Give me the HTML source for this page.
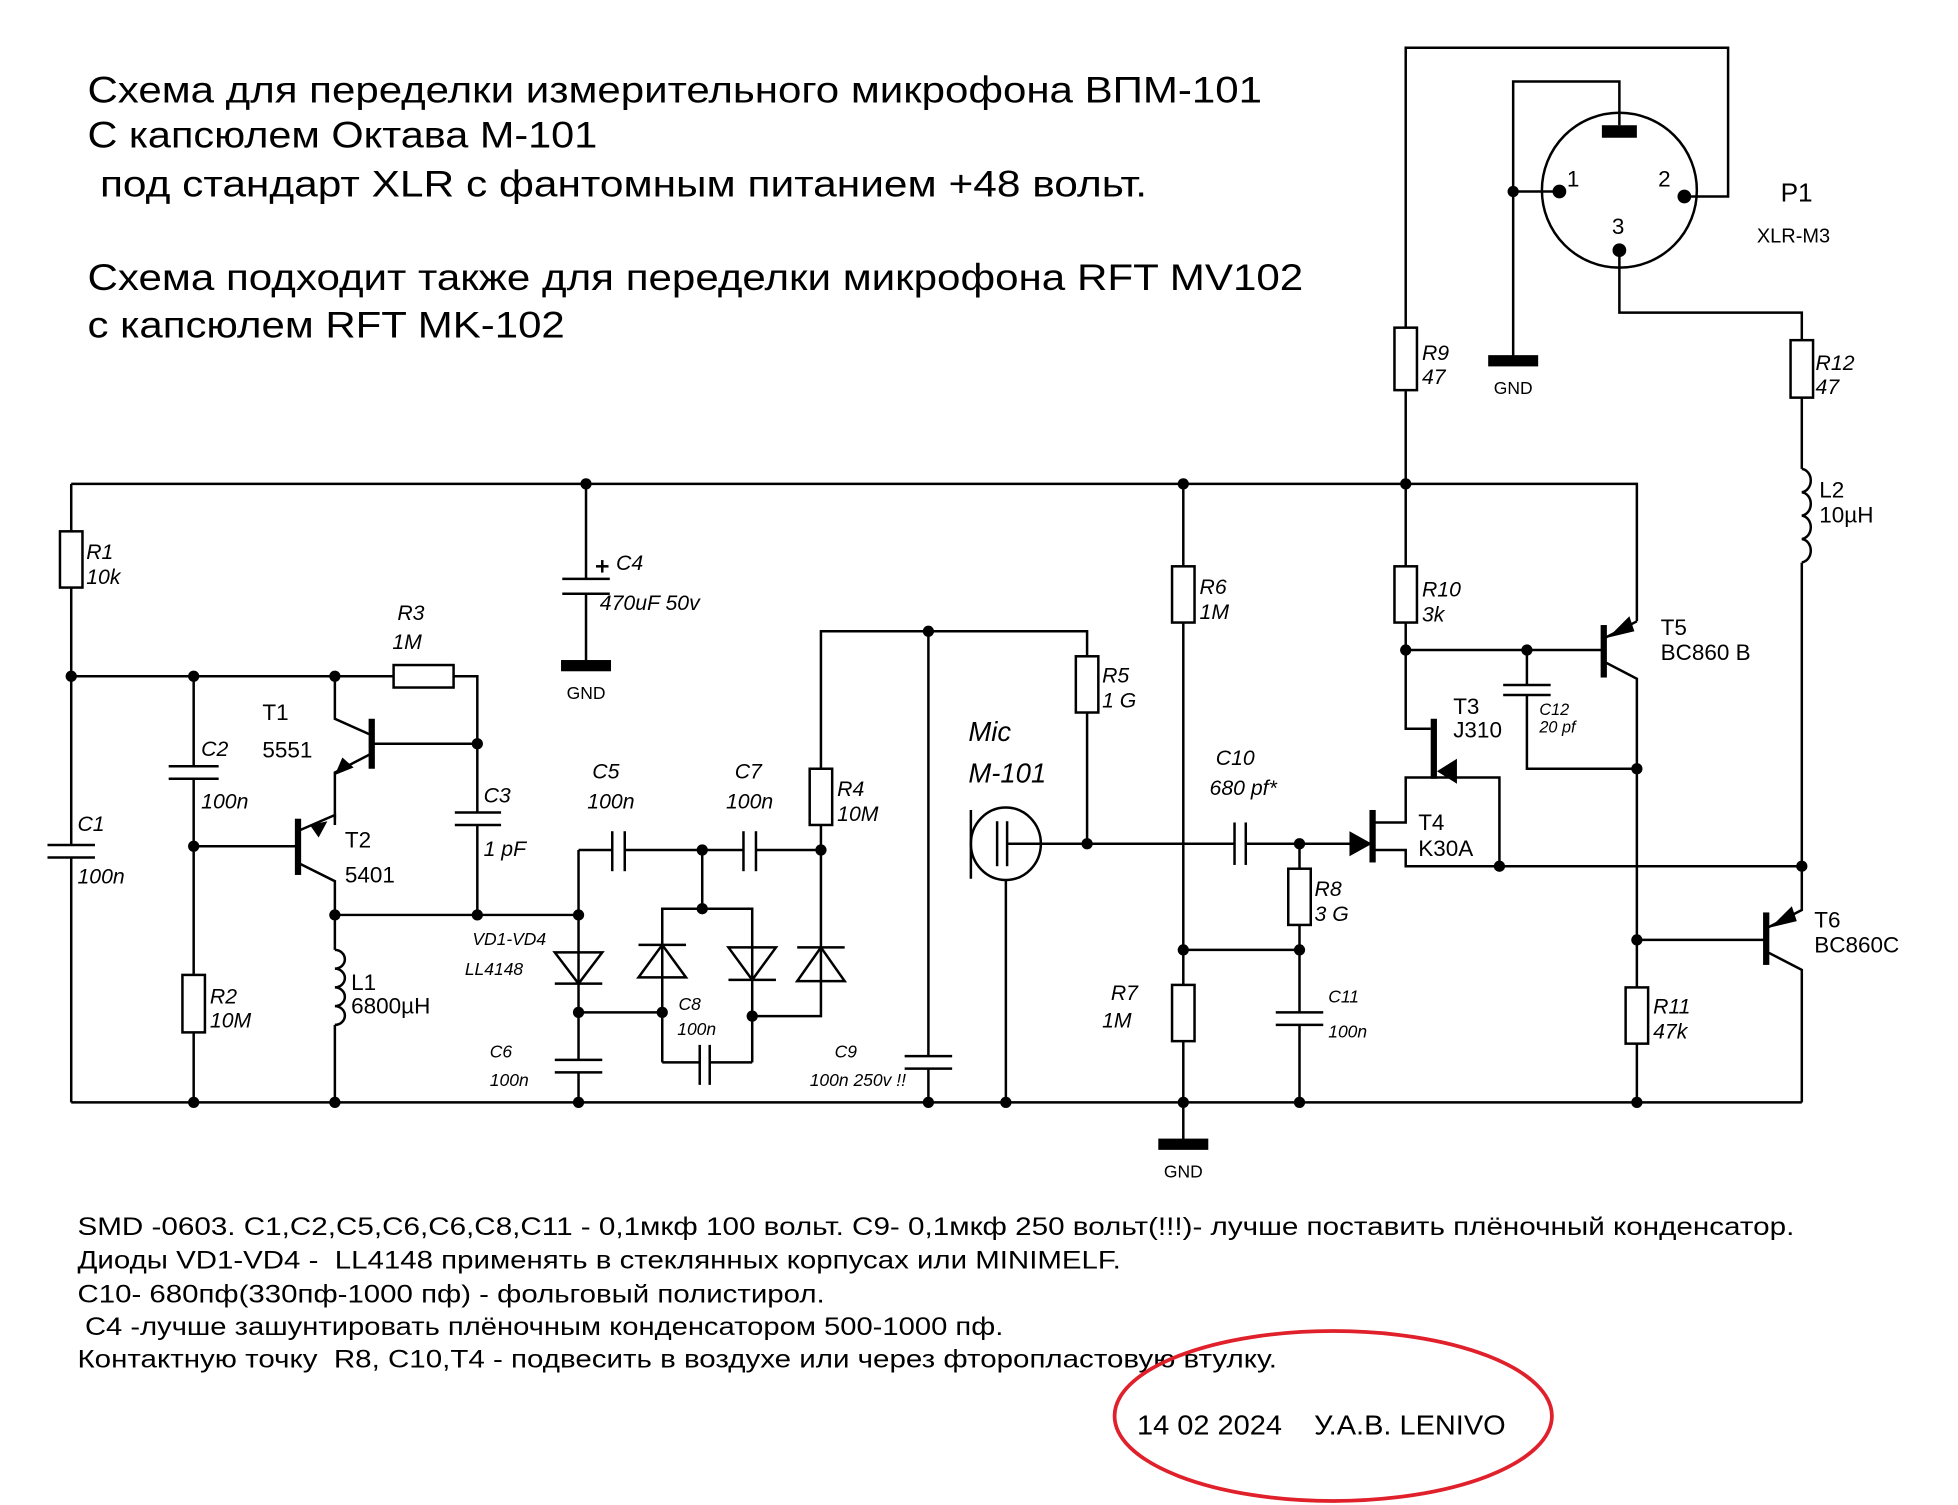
<!DOCTYPE html>
<html><head><meta charset="utf-8"><style>
html,body{margin:0;padding:0;background:#fff;}
svg{display:block;}
text{font-family:"Liberation Sans",sans-serif;fill:#000;white-space:pre;}
.i{font-style:italic;font-size:17px;}
.r{font-size:18px;}
.s{font-size:14px;font-style:italic;}
.t{font-size:30px;}
.n{font-size:20px;}
</style></head><body>
<svg width="1958" height="1505" viewBox="0 0 1567 1204" xmlns="http://www.w3.org/2000/svg" xml:space="preserve">
<rect width="1567" height="1204" fill="#fff"/>
<g stroke="#000" stroke-width="2" fill="none">
<polyline points="57,387 1310,387 1310,497"/>
<line x1="57" y1="882" x2="1442" y2="882"/>
<line x1="57" y1="387" x2="57" y2="676"/><line x1="57" y1="686" x2="57" y2="882"/>
<line x1="38" y1="676" x2="76" y2="676"/><line x1="38" y1="686" x2="76" y2="686"/>
<rect x="48" y="425" width="18" height="45" fill="#fff"/>
<line x1="57" y1="541" x2="315" y2="541"/><rect x="315" y="532" width="48" height="18"/>
<polyline points="363,541 382,541 382,650"/><line x1="382" y1="660" x2="382" y2="732"/>
<line x1="364" y1="650" x2="401" y2="650"/><line x1="364" y1="660" x2="401" y2="660"/>
<line x1="155" y1="541" x2="155" y2="613"/><line x1="155" y1="623" x2="155" y2="780"/><line x1="155" y1="826" x2="155" y2="882"/>
<line x1="135" y1="613" x2="175" y2="613"/><line x1="135" y1="623" x2="175" y2="623"/>
<rect x="146" y="780" width="18" height="46"/>
<polyline points="268,541 268,575 297,588"/>
<line x1="297" y1="595" x2="382" y2="595"/>
<polyline points="297,603 268,618 268,660"/>
<line x1="155" y1="677" x2="238" y2="677"/>
<polyline points="238,665 268,652 268,655"/>
<polyline points="238,690 268,705 268,760"/>
<line x1="268" y1="732" x2="463" y2="732"/>
<path d="M268,760 a8,7.5 0 0 1 0,15 a8,7.5 0 0 1 0,15 a8,7.5 0 0 1 0,15 a8,7.5 0 0 1 0,15"/>
<line x1="268" y1="820" x2="268" y2="882"/>
<line x1="469" y1="387" x2="469" y2="463"/><line x1="469" y1="475" x2="469" y2="530"/>
<line x1="450" y1="463" x2="488" y2="463"/><line x1="450" y1="475" x2="488" y2="475"/>
<line x1="477" y1="453" x2="487" y2="453"/><line x1="482" y1="448" x2="482" y2="458"/>
<polyline points="463,882 463,858"/><line x1="463" y1="848" x2="463" y2="680"/>
<line x1="444" y1="848" x2="482" y2="848"/><line x1="444" y1="858" x2="482" y2="858"/>
<line x1="463" y1="680" x2="490" y2="680"/><line x1="500" y1="680" x2="595" y2="680"/><line x1="605" y1="680" x2="657" y2="680"/>
<line x1="490" y1="665" x2="490" y2="697"/><line x1="500" y1="665" x2="500" y2="697"/>
<line x1="595" y1="665" x2="595" y2="697"/><line x1="605" y1="665" x2="605" y2="697"/>
<polygon points="444,762 482,762 463,787"/><line x1="444" y1="787" x2="482" y2="787"/>
<line x1="463" y1="810" x2="530" y2="810"/>
<line x1="562" y1="680" x2="562" y2="727"/>
<polyline points="530,850 530,727 602,727 602,850"/>
<polygon points="511,782 549,782 530,756"/><line x1="511" y1="756" x2="549" y2="756"/>
<polygon points="583,758 621,758 602,784"/><line x1="583" y1="784" x2="621" y2="784"/>
<polyline points="530,850 560,850"/><polyline points="568,850 602,850"/>
<line x1="560" y1="836" x2="560" y2="868"/><line x1="568" y1="836" x2="568" y2="868"/>
<polyline points="602,813 657,813 657,505 870,505 870,525"/>
<polygon points="638,785 676,785 657,758"/><line x1="638" y1="758" x2="676" y2="758"/>
<rect x="648" y="615" width="18" height="45" fill="#fff"/>
<line x1="743" y1="505" x2="743" y2="845"/><line x1="743" y1="855" x2="743" y2="882"/>
<line x1="724" y1="845" x2="762" y2="845"/><line x1="724" y1="855" x2="762" y2="855"/>
<rect x="861" y="525" width="18" height="45"/><line x1="870" y1="570" x2="870" y2="675"/>
<ellipse cx="805" cy="675" rx="28" ry="29"/>
<line x1="777" y1="648" x2="777" y2="703"/>
<line x1="798" y1="657" x2="798" y2="693"/><line x1="806" y1="657" x2="806" y2="693"/>
<line x1="806" y1="675" x2="988" y2="675"/><line x1="997" y1="675" x2="1082" y2="675"/>
<line x1="988" y1="658" x2="988" y2="692"/><line x1="997" y1="658" x2="997" y2="692"/>
<line x1="805" y1="704" x2="805" y2="882"/>
<line x1="947" y1="387" x2="947" y2="915"/>
<rect x="938" y="453" width="18" height="45" fill="#fff"/>
<rect x="938" y="788" width="18" height="45" fill="#fff"/>
<line x1="947" y1="760" x2="1040" y2="760"/>
<line x1="1040" y1="675" x2="1040" y2="810"/><line x1="1040" y1="820" x2="1040" y2="882"/>
<rect x="1031" y="695" width="18" height="45" fill="#fff"/>
<line x1="1021" y1="810" x2="1059" y2="810"/><line x1="1021" y1="820" x2="1059" y2="820"/>
<polyline points="1100,658 1125,658 1125,622 1200,622 1200,693"/>
<polyline points="1100,680 1125,680 1125,693 1442,693"/>
<polyline points="1125,312 1125,583 1145,583"/>
<rect x="1116" y="453" width="18" height="45" fill="#fff"/>
<rect x="1116" y="262" width="18" height="50" fill="#fff"/>
<polyline points="1125,262 1125,38 1383,38 1383,157 1350,157"/>
<line x1="1125" y1="520" x2="1283" y2="520"/>
<polyline points="1222,520 1222,548"/><polyline points="1222,556 1222,615 1310,615"/>
<line x1="1203" y1="548" x2="1241" y2="548"/><line x1="1203" y1="556" x2="1241" y2="556"/>
<polyline points="1285,510 1310,497"/>
<polyline points="1285,530 1310,543 1310,790"/><line x1="1310" y1="835" x2="1310" y2="882"/>
<rect x="1301" y="790" width="18" height="45"/>
<line x1="1310" y1="752" x2="1413" y2="752"/>
<polyline points="1415,742 1442,728 1442,450"/>
<polyline points="1415,762 1442,776 1442,882"/>
<path d="M1442,375 a8,9.4 0 0 1 0,18.7 a8,9.4 0 0 1 0,18.7 a8,9.4 0 0 1 0,18.7 a8,9.4 0 0 1 0,18.7"/>
<polyline points="1442,375 1442,318"/><rect x="1433" y="272" width="18" height="46"/>
<polyline points="1442,272 1442,250 1296,250 1296,200"/>
<ellipse cx="1296" cy="152" rx="62" ry="62"/>
<polyline points="1296,100 1296,65 1211,65 1211,285"/>
<line x1="1211" y1="153" x2="1248" y2="153"/>
</g>
<g fill="#000">
<rect x="236" y="655" width="5" height="45"/>
<rect x="295" y="575" width="5" height="40"/>
<rect x="1096" y="648" width="5" height="42"/>
<rect x="1145" y="575" width="5" height="48"/>
<rect x="1281" y="500" width="5" height="42"/>
<rect x="1411" y="730" width="5" height="42"/>
<polygon points="268,620 274,606 283,614"/>
<polygon points="262,657 248,660 255,670"/>
<polygon points="1098,675 1080,665 1080,685"/>
<polygon points="1150,617 1166,607 1166,627"/>
<polygon points="1287,510 1304,493 1308,505"/>
<polygon points="1417,742 1434,725 1438,737"/>
<rect x="449" y="528" width="40" height="9"/>
<rect x="927" y="911" width="40" height="9"/>
<rect x="1191" y="284" width="40" height="9"/>
<rect x="1282" y="100" width="28" height="10"/>
<circle cx="469" cy="387" r="4.5"/><circle cx="947" cy="387" r="4.5"/><circle cx="1125" cy="387" r="4.5"/>
<circle cx="57" cy="541" r="4.5"/><circle cx="155" cy="541" r="4.5"/><circle cx="268" cy="541" r="4.5"/>
<circle cx="382" cy="595" r="4.5"/><circle cx="155" cy="677" r="4.5"/><circle cx="268" cy="732" r="4.5"/>
<circle cx="382" cy="732" r="4.5"/><circle cx="463" cy="732" r="4.5"/><circle cx="562" cy="680" r="4.5"/>
<circle cx="657" cy="680" r="4.5"/><circle cx="562" cy="727" r="4.5"/><circle cx="463" cy="810" r="4.5"/>
<circle cx="530" cy="810" r="4.5"/><circle cx="602" cy="813" r="4.5"/><circle cx="743" cy="505" r="4.5"/>
<circle cx="870" cy="675" r="4.5"/><circle cx="1040" cy="675" r="4.5"/><circle cx="947" cy="760" r="4.5"/>
<circle cx="1040" cy="760" r="4.5"/><circle cx="1125" cy="520" r="4.5"/><circle cx="1222" cy="520" r="4.5"/>
<circle cx="1310" cy="615" r="4.5"/><circle cx="1200" cy="693" r="4.5"/><circle cx="1442" cy="693" r="4.5"/>
<circle cx="1310" cy="752" r="4.5"/>
<circle cx="155" cy="882" r="4.5"/><circle cx="268" cy="882" r="4.5"/><circle cx="463" cy="882" r="4.5"/>
<circle cx="743" cy="882" r="4.5"/><circle cx="805" cy="882" r="4.5"/><circle cx="947" cy="882" r="4.5"/>
<circle cx="1040" cy="882" r="4.5"/><circle cx="1310" cy="882" r="4.5"/>
<circle cx="1211" cy="153" r="4.5"/><circle cx="1248" cy="153" r="5.5"/><circle cx="1348" cy="157" r="5.5"/><circle cx="1296" cy="200" r="5.5"/>
</g>
<text class="t" x="70" y="82" textLength="940" lengthAdjust="spacingAndGlyphs">Схема для переделки измерительного микрофона ВПМ-101</text>
<text class="t" x="70" y="118" textLength="408" lengthAdjust="spacingAndGlyphs">С капсюлем Октава М-101</text>
<text class="t" x="80" y="157" textLength="838" lengthAdjust="spacingAndGlyphs">под стандарт XLR с фантомным питанием +48 вольт.</text>
<text class="t" x="70" y="232" textLength="973" lengthAdjust="spacingAndGlyphs">Схема подходит также для переделки микрофона RFT MV102</text>
<text class="t" x="70" y="270" textLength="382" lengthAdjust="spacingAndGlyphs">с капсюлем RFT MK-102</text>
<text class="i" x="69" y="447">R1</text><text class="i" x="69" y="467">10k</text>
<text class="i" x="318" y="496">R3</text><text class="i" x="314" y="519">1M</text>
<text class="r" x="210" y="576">T1</text><text class="r" x="210" y="606">5551</text>
<text class="i" x="161" y="605">C2</text><text class="i" x="161" y="647">100n</text>
<text class="r" x="276" y="678">T2</text><text class="r" x="276" y="706">5401</text>
<text class="i" x="62" y="665">C1</text><text class="i" x="62" y="707">100n</text>
<text class="i" x="387" y="642">C3</text><text class="i" x="387" y="685">1 pF</text>
<text class="i" x="168" y="803">R2</text><text class="i" x="168" y="822">10M</text>
<text class="r" x="281" y="792">L1</text><text class="r" x="281" y="811">6800µH</text>
<text class="i" x="493" y="456">C4</text><text class="i" x="480" y="488">470uF 50v</text>
<text x="469" y="559" font-size="14" text-anchor="middle">GND</text>
<text class="i" x="474" y="623">C5</text><text class="i" x="470" y="647">100n</text>
<text class="i" x="588" y="623">C7</text><text class="i" x="581" y="647">100n</text>
<text class="i" x="670" y="637">R4</text><text class="i" x="670" y="657">10M</text>
<text class="s" x="378" y="756">VD1-VD4</text><text class="s" x="372" y="780">LL4148</text>
<text class="s" x="543" y="808">C8</text><text class="s" x="542" y="828">100n</text>
<text class="s" x="392" y="846">C6</text><text class="s" x="392" y="869">100n</text>
<text class="s" x="668" y="846">C9</text><text class="s" x="648" y="869">100n 250v !!</text>
<text class="i" x="882" y="546">R5</text><text class="i" x="882" y="566">1 G</text>
<text x="775" y="593" font-size="22" font-style="italic">Mic</text>
<text x="775" y="626" font-size="22" font-style="italic">M-101</text>
<text class="i" x="960" y="475">R6</text><text class="i" x="960" y="495">1M</text>
<text class="i" x="973" y="612">C10</text><text class="i" x="968" y="636">680 pf*</text>
<text class="i" x="1052" y="717">R8</text><text class="i" x="1052" y="737">3 G</text>
<text class="i" x="889" y="800">R7</text><text class="i" x="882" y="822">1M</text>
<text class="s" x="1063" y="802">C11</text><text class="s" x="1063" y="830">100n</text>
<text x="947" y="942" font-size="14" text-anchor="middle">GND</text>
<text class="r" x="1135" y="664">T4</text><text class="r" x="1135" y="685">K30A</text>
<text class="r" x="1163" y="571">T3</text><text class="r" x="1163" y="590">J310</text>
<text x="1232" y="572" font-size="13" font-style="italic">C12</text><text x="1232" y="586" font-size="13" font-style="italic">20 pf</text>
<text class="i" x="1138" y="477">R10</text><text class="i" x="1138" y="497">3k</text>
<text class="r" x="1329" y="508">T5</text><text class="r" x="1329" y="528">BC860 B</text>
<text class="r" x="1452" y="742">T6</text><text class="r" x="1452" y="762">BC860C</text>
<text class="i" x="1323" y="811">R11</text><text class="i" x="1323" y="831">47k</text>
<text class="r" x="1456" y="398">L2</text><text class="r" x="1456" y="418">10µH</text>
<text class="i" x="1453" y="296">R12</text><text class="i" x="1453" y="315">47</text>
<text class="i" x="1138" y="288">R9</text><text class="i" x="1138" y="307">47</text>
<text x="1211" y="315" font-size="14" text-anchor="middle">GND</text>
<text x="1254" y="149" font-size="18">1</text><text x="1327" y="149" font-size="18">2</text><text x="1290" y="187" font-size="18">3</text>
<text x="1425" y="161" font-size="21">P1</text><text x="1406" y="194" font-size="16">XLR-M3</text>
<text class="n" x="62" y="988" textLength="1374" lengthAdjust="spacingAndGlyphs">SMD -0603. C1,C2,C5,C6,C6,C8,C11 - 0,1мкф 100 вольт. C9- 0,1мкф 250 вольт(!!!)- лучше поставить плёночный конденсатор.</text>
<text class="n" x="62" y="1015" textLength="835" lengthAdjust="spacingAndGlyphs">Диоды VD1-VD4 -  LL4148 применять в стеклянных корпусах или MINIMELF.</text>
<text class="n" x="62" y="1042" textLength="598" lengthAdjust="spacingAndGlyphs">C10- 680пф(330пф-1000 пф) - фольговый полистирол.</text>
<text class="n" x="68" y="1068" textLength="735" lengthAdjust="spacingAndGlyphs">C4 -лучше зашунтировать плёночным конденсатором 500-1000 пф.</text>
<text class="n" x="62" y="1094" textLength="960" lengthAdjust="spacingAndGlyphs">Контактную точку  R8, C10,T4 - подвесить в воздухе или через фторопластовую втулку.</text>
<text x="910" y="1148" font-size="22" textLength="295" lengthAdjust="spacingAndGlyphs">14 02 2024    У.А.В. LENIVO</text>
<ellipse cx="1067" cy="1133" rx="175" ry="68" fill="none" stroke="#e0202a" stroke-width="3"/>
</svg>
</body></html>
